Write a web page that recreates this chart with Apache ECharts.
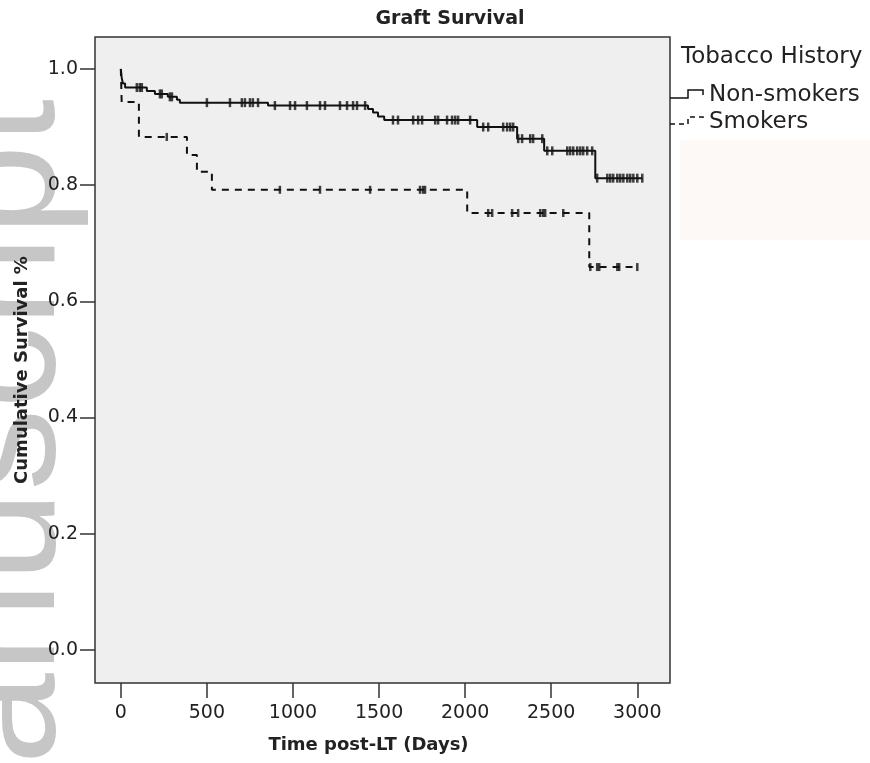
<!DOCTYPE html>
<html>
<head>
<meta charset="utf-8">
<script src="https://cdn.jsdelivr.net/npm/echarts@6/dist/echarts.min.js"></script>
<style>
html, body { margin: 0; padding: 0; background: #fff; }
#chart { width: 870px; height: 763px; }
</style>
</head>
<body>
<div id="chart"></div>
<script>
// axis ticks
var xTicks = [0, 500, 1000, 1500, 2000, 2500, 3000];
var yTicks = [0, 0.2, 0.4, 0.6, 0.8, 1.0];

// Kaplan-Meier steps: [day, cumulative survival after the event]
var nonSmokerSteps = [
  [0, 1.0], [5, 0.985], [12, 0.975], [25, 0.968], [151, 0.962], [198, 0.957],
  [273, 0.952], [326, 0.947], [343, 0.942], [855, 0.937], [1436, 0.931],
  [1465, 0.925], [1494, 0.918], [1530, 0.912], [2070, 0.900], [2302, 0.880],
  [2459, 0.859], [2756, 0.812], [3029, 0.812]
];
// censored cases (days)
var nonSmokerCensor = [
  93, 110, 122, 227, 238, 285, 297, 500, 634, 703, 721, 750, 767, 797, 895, 983,
  1012, 1081, 1157, 1186, 1273, 1314, 1349, 1372, 1419, 1581, 1610, 1698, 1727,
  1750, 1826, 1843, 1895, 1924, 1942, 1959, 2029, 2105, 2134, 2221, 2244, 2262,
  2279, 2308, 2331, 2378, 2395, 2448, 2477, 2506, 2593, 2610, 2628, 2651, 2669,
  2686, 2709, 2738, 2767, 2826, 2843, 2860, 2884, 2901, 2919, 2942, 2959, 2977,
  3000, 3029
];

var smokerSteps = [
  [0, 1.0], [5, 0.943], [105, 0.883], [384, 0.852], [442, 0.823], [529, 0.792],
  [2012, 0.752], [2721, 0.659], [3000, 0.659]
];
var smokerCensor = [
  267, 924, 1157, 1448, 1738, 1756, 1767, 2134, 2157, 2273, 2308, 2436, 2453,
  2465, 2570, 2727, 2767, 2779, 2884, 2895, 3000
];

function survivalAt(steps, t) {
  var s = steps[0][1];
  for (var i = 0; i < steps.length; i++) {
    if (steps[i][0] <= t) s = steps[i][1];
  }
  return s;
}
function censorPoints(steps, times) {
  return times.map(function (t) { return [t, survivalAt(steps, t)]; });
}

var chart = echarts.init(document.getElementById('chart'));
var ink = '#111';
var txt = '#222';
var font = 'DejaVu Sans';
var option = {
  animation: false,
  title: {
    text: 'Graft Survival',
    left: 445,
    top: 5,
    textAlign: 'center',
    textStyle: { fontFamily: font, fontSize: 19, fontWeight: 'bold', color: txt }
  },
  grid: {
    left: 95, top: 37, right: 200, bottom: 80,
    show: true, backgroundColor: '#efefef', borderColor: '#333', borderWidth: 1.5
  },
  xAxis: {
    type: 'value', min: -150, max: 3190,
    name: 'Time post-LT (Days)', nameLocation: 'middle', nameGap: 53,
    nameTextStyle: { fontFamily: font, fontSize: 18, fontWeight: 'bold', color: txt, padding: [0, 28, 0, 0] },
    splitLine: { show: false },
    axisLine: { show: false, onZero: false },
    axisTick: { show: true, length: 15, lineStyle: { color: '#333', width: 1.5 }, customValues: xTicks },
    axisLabel: {
      margin: 21, fontFamily: font, fontSize: 19, color: txt, customValues: xTicks,
      formatter: function (v) { return String(v); }
    }
  },
  yAxis: {
    type: 'value', min: -0.057, max: 1.055,
    name: 'Cumulative Survival %', nameLocation: 'middle', nameGap: 64, nameRotate: 90,
    nameTextStyle: { fontFamily: font, fontSize: 18, fontWeight: 'bold', color: txt, padding: [0, 20, 0, 0] },
    splitLine: { show: false },
    axisLine: { show: false, onZero: false },
    axisTick: { show: true, length: 15, lineStyle: { color: '#333', width: 1.5 }, customValues: yTicks },
    axisLabel: {
      margin: 17, fontFamily: font, fontSize: 19, color: txt, customValues: yTicks,
      formatter: function (v) { return v.toFixed(1); }
    }
  },
  graphic: [
    {
      type: 'text', z: -10, x: 91, y: 901, rotation: Math.PI / 2, silent: true,
      style: { text: 'manuscript', font: '164px "Liberation Sans"', fill: '#c6c6c6', align: 'left', verticalAlign: 'bottom' }
    },
    { type: 'rect', z: -10, silent: true, shape: { x: 680, y: 140, width: 190, height: 100 }, style: { fill: '#fdf9f7' } },
    { type: 'text', x: 681, y: 57, style: { text: 'Tobacco History', font: '23px "DejaVu Sans"', fill: txt, verticalAlign: 'middle' } },
    {
      type: 'polyline', shape: { points: [[670, 98], [688, 98], [688, 90], [703, 90], [703, 95]] },
      style: { stroke: ink, lineWidth: 1.5, fill: null }
    },
    { type: 'text', x: 709, y: 95, style: { text: 'Non-smokers', font: '23px "DejaVu Sans"', fill: txt, verticalAlign: 'middle' } },
    {
      type: 'polyline', shape: { points: [[670, 124], [688, 124], [688, 117], [703, 117], [703, 122]] },
      style: { stroke: ink, lineWidth: 1.5, fill: null, lineDash: [5, 4] }
    },
    { type: 'text', x: 709, y: 122, style: { text: 'Smokers', font: '23px "DejaVu Sans"', fill: txt, verticalAlign: 'middle' } }
  ],
  series: [
    {
      name: 'Non-smokers', type: 'line', step: 'end', data: nonSmokerSteps,
      showSymbol: false, z: 4,
      lineStyle: { color: ink, width: 2 }
    },
    {
      name: 'Non-smokers censored', type: 'scatter', data: censorPoints(nonSmokerSteps, nonSmokerCensor),
      symbol: 'rect', symbolSize: [2.5, 9], z: 5,
      itemStyle: { color: ink }
    },
    {
      name: 'Smokers', type: 'line', step: 'end', data: smokerSteps,
      showSymbol: false, z: 3,
      lineStyle: { color: ink, width: 2, type: [7, 6] }
    },
    {
      name: 'Smokers censored', type: 'scatter', data: censorPoints(smokerSteps, smokerCensor),
      symbol: 'rect', symbolSize: [2.5, 8], z: 5,
      itemStyle: { color: ink }
    }
  ]
};
chart.setOption(option);
</script>
</body>
</html>
